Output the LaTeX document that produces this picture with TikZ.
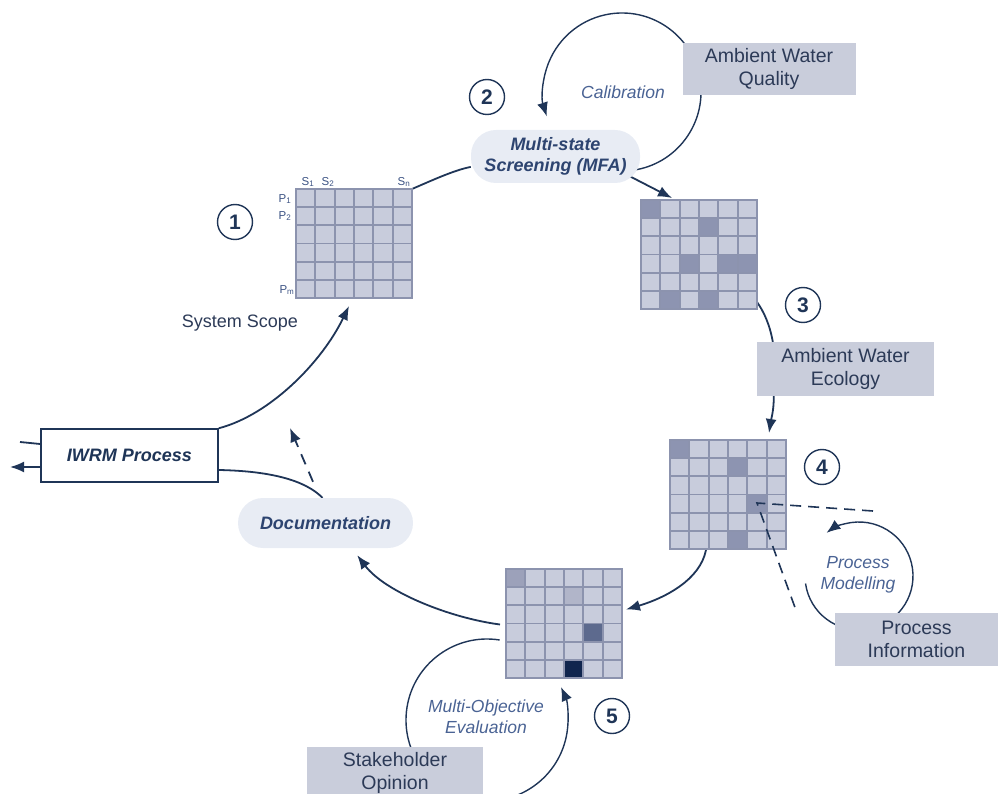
\documentclass[tikz,border=0pt]{standalone}
\usepackage{fontspec}
\setmainfont{Liberation Sans}
\usetikzlibrary{arrows.meta,calc}
\definecolor{navy}{HTML}{1F3557}
\definecolor{lbl}{HTML}{4A6394}
\definecolor{boxfill}{HTML}{C9CDDB}
\definecolor{boxtext}{HTML}{2C3A57}
\definecolor{pill}{HTML}{E8ECF4}
\definecolor{pilltext}{HTML}{2D4470}
\definecolor{cellL}{HTML}{C8CCDC}
\definecolor{cellD}{HTML}{8D94B1}
\definecolor{gline}{HTML}{8C93AE}
\definecolor{cA}{HTML}{9CA1BA}
\definecolor{cB}{HTML}{B1B5C9}
\definecolor{cC}{HTML}{5D6A8E}
\definecolor{cDk}{HTML}{10254E}
\definecolor{gridlbl}{HTML}{3B5283}
\pgfdeclarelayer{bg}
\pgfsetlayers{bg,main}
\newcommand{\mgrid}[4]{%
  \node[minimum width=116pt,minimum height=109pt,inner sep=0pt,outer sep=0pt,anchor=north west] (#1) at (#2,#3) {};
  \fill[cellL] (#1.north west) rectangle (#1.south east);
  \foreach \c/\r/\k in {#4} {\fill[\k] ($(#1.north west)+(\c*19.333,\r*18.167)$) rectangle ++(19.333,18.167);}
  \foreach \i in {0,...,6} {%
    \draw[gline,line width=1.9pt,line cap=rect] ($(#1.north west)+(\i*19.333,0)$) -- ++(0,109);
    \draw[gline,line width=1.9pt,line cap=rect] ($(#1.north west)+(0,\i*18.167)$) -- ++(116,0);}
}
\tikzset{
  graybox/.style={fill=boxfill, text=boxtext, minimum width=177pt, minimum height=53pt, inner sep=0pt, align=center, font=\fontsize{19.5}{23}\selectfont},
  pillbox/.style={fill=pill, rounded corners=25pt, text=pilltext, font=\bfseries\itshape\fontsize{18}{21}\selectfont, align=center, inner sep=0pt},
  num/.style={circle, draw=navy, line width=1.4pt, minimum size=35pt, inner sep=0pt, font=\bfseries\fontsize{21}{21}\selectfont, text=navy},
  conn/.style={draw=navy, line width=1.8pt},
  arr/.style={conn, -{Latex[length=14pt,width=11pt]}},
  looparr/.style={draw=navy, line width=1.4pt, -{Latex[length=14pt,width=11pt]}},
  ital/.style={font=\itshape\fontsize{17.5}{21}\selectfont, text=lbl, align=center},
  tinylbl/.style={font=\fontsize{11.5}{11.5}\selectfont, text=gridlbl, inner sep=0pt},
  dashln/.style={draw=navy, line width=1.6pt, dash pattern=on 11pt off 7pt},
}
\begin{document}
\begin{tikzpicture}[x=1pt,y=-1pt]
\useasboundingbox (0,0) rectangle (999,794);

% grids
\mgrid{g1}{296}{189}{0/0/cellL}
\mgrid{g2}{641}{200}{0/0/cellD,3/1/cellD,2/3/cellD,4/3/cellD,5/3/cellD,1/5/cellD,3/5/cellD}
\mgrid{g3}{670}{440}{0/0/cellD,3/1/cellD,4/3/cellD,3/5/cellD}
\mgrid{g4}{506}{569}{0/0/cA,3/1/cB,4/3/cC,3/5/cDk}

% grid labels
\node[tinylbl] (s1) at (308,182) {S\textsubscript{1}};
\node[tinylbl] (s2) at (328,182) {S\textsubscript{2}};
\node[tinylbl] (sn) at (404,182) {S\textsubscript{n}};
\node[tinylbl] (p1) at (285,199) {P\textsubscript{1}};
\node[tinylbl] (p2) at (285,216) {P\textsubscript{2}};
\node[tinylbl] (pm) at (287,290) {P\textsubscript{m}};

% boxes
\node[graybox, minimum width=173pt, minimum height=52pt] (awq) at (769,69) {Ambient Water\\Quality};
\node[graybox] (awe) at (845.5,369) {Ambient Water\\Ecology};
\node[graybox, minimum width=163pt] (pinf) at (916.5,639.5) {Process\\Information};
\node[graybox, minimum width=176pt, minimum height=52pt] (sho) at (395,773) {Stakeholder\\Opinion};

\node[pillbox, minimum width=169pt, minimum height=53pt] (ms) at (555.5,156.5) {Multi-state\\Screening (MFA)};
\node[pillbox, minimum width=175pt, minimum height=50pt] (doc) at (325.5,523) {Documentation};
\node[draw=navy, line width=1.5pt, fill=white, minimum width=177pt, minimum height=53pt, inner sep=0pt, text=navy, font=\bfseries\itshape\fontsize{18}{21}\selectfont] (iw) at (129.5,455.5) {IWRM Process};

% numbers
\node[num] (n1) at (235,222) {1};
\node[num] (n2) at (487,97) {2};
\node[num] (n3) at (803,305) {3};
\node[num] (n4) at (822,467) {4};
\node[num] (n5) at (612,716) {5};

% labels
\node[font=\fontsize{18}{21}\selectfont, text=boxtext] (scope) at (240,323) {System Scope};
\node[ital] (calib) at (623,92) {Calibration};
\node[ital] (pmod) at (858,575) {Process\\Modelling};
\node[ital] (moe) at (486,717) {Multi-Objective\\Evaluation};

% free ends
\coordinate (calc) at (622,92);
\coordinate (pmc) at (859,576);
\coordinate (moc) at (487,720);
\coordinate (cellpt) at (757,503);
\coordinate (dashR) at (873,511);
\coordinate (dashD) at (797,613);
\coordinate (inL) at (20,442);
\coordinate (outL) at (10,467);
\coordinate (aweTop) at (773,343);
\coordinate (dashTip) at (290,428);

% dashed zoom lines on top of grid
\draw[dashln] (dashR) -- (cellpt) -- (dashD);

\begin{pgfonlayer}{bg}
  % calibration loop
  \draw[looparr] ([shift={(82:79)}]calc) arc[start angle=82, end angle=-198, radius=79];
  % process modelling loop
  \draw[looparr] ([shift={(172:54)}]pmc) arc[start angle=172, end angle=-127, radius=54];
  % multi-objective loop
  \draw[looparr] ([shift={(-81:81)}]moc) arc[start angle=-81, end angle=-384, radius=81];

  % main cycle
  \draw[conn] (g1.north east) .. controls (435,179) and (455,170) .. (ms.187);
  \draw[arr] ($(ms.east)+(-10,20)$) -- ($(g2.north west)+(31,-2)$);
  \draw[conn] ($(g2.south east)+(0,-7)$) .. controls (764,312) and (770,325) .. (aweTop);
  \draw[arr] ($(awe.south west)+(17,0)$) .. controls (774,410) and (771,420) .. ($(g3.north east)+(-17,-7)$);
  \draw[arr] ($(g3.south west)+(36,1)$) .. controls (700,580) and (665,598) .. ($(g4.east)+(4,-14)$);
  \draw[arr] ($(g4.west)+(-6,1)$) .. controls (450,618) and (385,592) .. ($(doc.south east)+(-56,7)$);
  \draw[arr] (iw.north east) .. controls (270,415) and (322,362) .. ($(g1.south west)+(53,8)$);
  \draw[conn] ($(iw.east)+(0,14.5)$) .. controls (270,471) and (305,480) .. ($(doc.north)+(-3,0)$);
  \draw[conn, -{Latex[length=14pt,width=11pt]}, dash pattern=on 11pt off 8pt] ($(doc.north)+(-12.5,-16)$) -- (dashTip);
  \draw[conn] (inL) -- ($(iw.west)+(0,-11.5)$);
  \draw[arr] ($(iw.west)+(0,11.5)$) -- (outL);
\end{pgfonlayer}
\end{tikzpicture}
\end{document}
